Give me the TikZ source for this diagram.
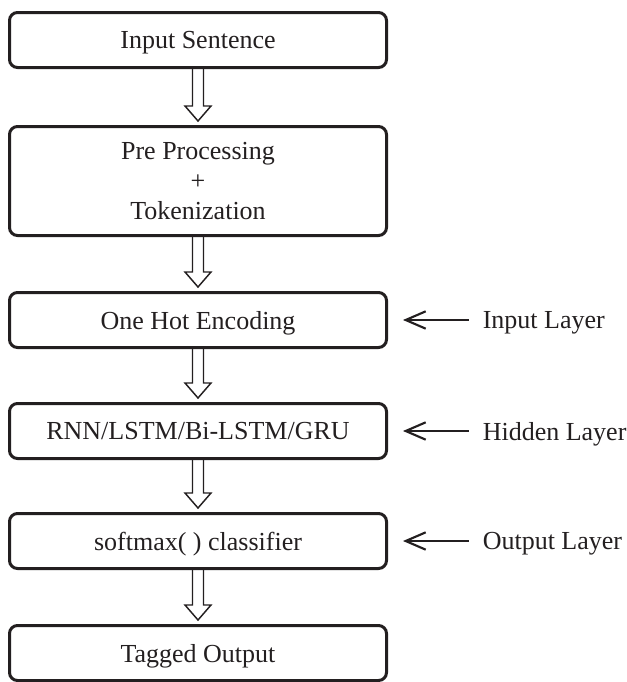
\documentclass[tikz,border=0pt]{standalone}
\usepackage{fontspec}
\setmainfont{Liberation Serif}
\usetikzlibrary{arrows.meta,calc}
\definecolor{ink}{HTML}{231F20}
\newcommand\blockarrow[2]{%
  \draw[blockarr] ($(#1.south)+(-5.5,0)$) -- ($(#2.north)+(-5.5,-19)$)
    -- ($(#2.north)+(-13,-19)$) -- ($(#2.north)+(0,-4)$)
    -- ($(#2.north)+(13,-19)$) -- ($(#2.north)+(5.5,-19)$)
    -- ($(#1.south)+(5.5,0)$);}
\begin{document}
\begin{tikzpicture}[x=0.75pt,y=-0.75pt,
  txt/.style={font=\fontsize{19.5}{22.5}\selectfont, text=ink},
  box/.style={txt, draw=ink, line width=2.25pt, rounded corners=6pt,
    minimum width=282.75pt, minimum height=41.25pt, inner sep=0pt, align=center},
  onebox/.style={box, text depth=0pt},
  blockarr/.style={draw=ink, line width=1.1pt, line join=miter},
  sidearr/.style={draw=ink, line width=1.6pt, -{Straight Barb[length=15pt,width=13pt]}},
  lab/.style={txt, anchor=west, inner sep=0pt, text depth=0pt}]
\useasboundingbox (0,0) rectangle (627,682);
\node[onebox] (b1) at (198,40) {Input Sentence};
\node[box, minimum height=81.75pt] (b2) at (198,181) {Pre Processing\\+\\Tokenization};
\node[onebox] (b3) at (198,320) {One Hot Encoding};
\node[onebox] (b4) at (198,431) {RNN/LSTM/Bi-LSTM/GRU};
\node[onebox] (b5) at (198,541) {softmax( ) classifier};
\node[onebox] (b6) at (198,653) {Tagged Output};
\blockarrow{b1}{b2}
\blockarrow{b2}{b3}
\blockarrow{b3}{b4}
\blockarrow{b4}{b5}
\blockarrow{b5}{b6}
\node[lab] (l3) at ($(b3.east)+(94.5,0)$) {Input Layer};
\node[lab] (l4) at ($(b4.east)+(94.5,0)$) {Hidden Layer};
\node[lab] (l5) at ($(b5.east)+(94.5,0)$) {Output Layer};
\draw[sidearr] ($(l3.west)+(-14,0)$) -- ($(b3.east)+(15,0)$);
\draw[sidearr] ($(l4.west)+(-14,0)$) -- ($(b4.east)+(15,0)$);
\draw[sidearr] ($(l5.west)+(-14,0)$) -- ($(b5.east)+(15,0)$);
\end{tikzpicture}
\end{document}
